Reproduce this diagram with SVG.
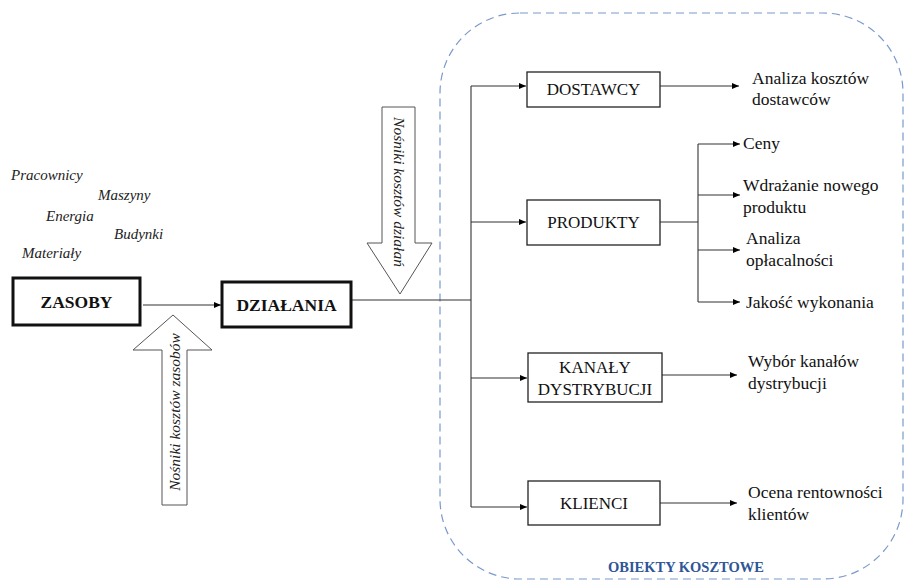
<svg xmlns="http://www.w3.org/2000/svg" width="905" height="582" viewBox="0 0 905 582">
<defs>
<marker id="ah" markerWidth="8" markerHeight="8" refX="7" refY="4" orient="auto" markerUnits="userSpaceOnUse">
<path d="M0,1 L7,4 L0,7 Z" fill="#000"/>
</marker>
</defs>
<style>
text{font-family:"Liberation Serif","Times New Roman",serif}
.t{font-size:17.5px;fill:#111}
.bx{font-size:17px;fill:#111}
.i{font-size:15px;font-style:italic;fill:#222}
.r{font-size:15.5px;font-style:italic;fill:#222}
.b{font-size:17.5px;font-weight:bold;fill:#111}
.box{fill:#fff;stroke:#222;stroke-width:1.3}
.tbox{fill:#fff;stroke:#111;stroke-width:3}
.ln{fill:none;stroke:#333;stroke-width:1.1}
.arr{fill:none;stroke:#333;stroke-width:1.1;marker-end:url(#ah)}
.big{fill:#fff;stroke:#555;stroke-width:1}
</style>
<rect width="905" height="582" fill="#fff"/>
<rect id="frame" x="440" y="13" width="463" height="566" rx="80" ry="80" fill="none" stroke="#7A99CC" stroke-width="1.2" stroke-dasharray="8,5"/>
<text x="686" y="572" text-anchor="middle" font-size="14.5" font-weight="bold" fill="#2F5597">OBIEKTY KOSZTOWE</text>

<g id="resources">
<text class="i" x="11" y="180">Pracownicy</text>
<text class="i" x="98" y="200">Maszyny</text>
<text class="i" x="46" y="221">Energia</text>
<text class="i" x="114" y="239">Budynki</text>
<text class="i" x="22" y="258">Materiały</text>
</g>

<g id="connectors">
<line class="arr" x1="143" y1="305" x2="221" y2="305"/>
<polyline class="ln" points="351,300 471,300"/>
<line class="ln" x1="471" y1="86" x2="471" y2="507"/>
<line class="arr" x1="471" y1="86" x2="526" y2="86"/>
<line class="arr" x1="471" y1="222" x2="526" y2="222"/>
<line class="arr" x1="471" y1="378" x2="527" y2="378"/>
<line class="arr" x1="471" y1="507" x2="527" y2="507"/>
<line class="arr" x1="660" y1="86" x2="739" y2="86"/>
<line class="ln" x1="660" y1="222" x2="698" y2="222"/>
<line class="ln" x1="698" y1="144" x2="698" y2="302"/>
<line class="arr" x1="698" y1="144" x2="740" y2="144"/>
<line class="arr" x1="698" y1="195" x2="740" y2="195"/>
<line class="arr" x1="698" y1="250" x2="740" y2="250"/>
<line class="arr" x1="698" y1="302" x2="740" y2="302"/>
<line class="arr" x1="662" y1="375" x2="737" y2="375"/>
<line class="arr" x1="660" y1="503" x2="737" y2="503"/>
</g>

<g id="zasoby">
<rect class="tbox" x="13" y="278" width="127" height="47"/>
<text class="b" x="76.5" y="308" text-anchor="middle">ZASOBY</text>
</g>
<g id="dzialania">
<rect class="tbox" x="222" y="282" width="129" height="45"/>
<text class="b" x="286.5" y="311" text-anchor="middle">DZIAŁANIA</text>
</g>

<g id="nosniki-zasobow">
<polygon class="big" points="173,315 212,350 187,350 187,505 162,505 162,350 133,350"/>
<text class="r" transform="translate(180,412) rotate(-90)" text-anchor="middle">Nośniki kosztów zasobów</text>
</g>
<g id="nosniki-dzialan">
<polygon class="big" points="382,107 415,107 415,243 432,243 400,294 367,243 382,243"/>
<text class="r" transform="translate(394,192) rotate(90)" text-anchor="middle">Nośniki kosztów działań</text>
</g>

<g id="dostawcy">
<rect class="box" x="527" y="72" width="133" height="35"/>
<text class="bx" x="593.5" y="95" text-anchor="middle">DOSTAWCY</text>
</g>
<g id="produkty">
<rect class="box" x="527" y="200" width="133" height="45"/>
<text class="bx" x="593.5" y="228" text-anchor="middle">PRODUKTY</text>
</g>
<g id="kanaly">
<rect class="box" x="528" y="353" width="134" height="49"/>
<text class="bx" x="595" y="373" text-anchor="middle">KANAŁY</text>
<text class="bx" x="595" y="395" text-anchor="middle">DYSTRYBUCJI</text>
</g>
<g id="klienci">
<rect class="box" x="528" y="481" width="132" height="44"/>
<text class="bx" x="594" y="509" text-anchor="middle">KLIENCI</text>
</g>

<g id="outcomes">
<text class="t" x="752" y="84">Analiza kosztów</text>
<text class="t" x="752" y="105">dostawców</text>
<text class="t" x="743" y="149">Ceny</text>
<text class="t" x="743" y="191">Wdrażanie nowego</text>
<text class="t" x="743" y="213">produktu</text>
<text class="t" x="746" y="244">Analiza</text>
<text class="t" x="746" y="266">opłacalności</text>
<text class="t" x="746" y="308">Jakość wykonania</text>
<text class="t" x="748" y="367">Wybór kanałów</text>
<text class="t" x="748" y="389">dystrybucji</text>
<text class="t" x="748" y="498">Ocena rentowności</text>
<text class="t" x="748" y="520">klientów</text>
</g>
</svg>
